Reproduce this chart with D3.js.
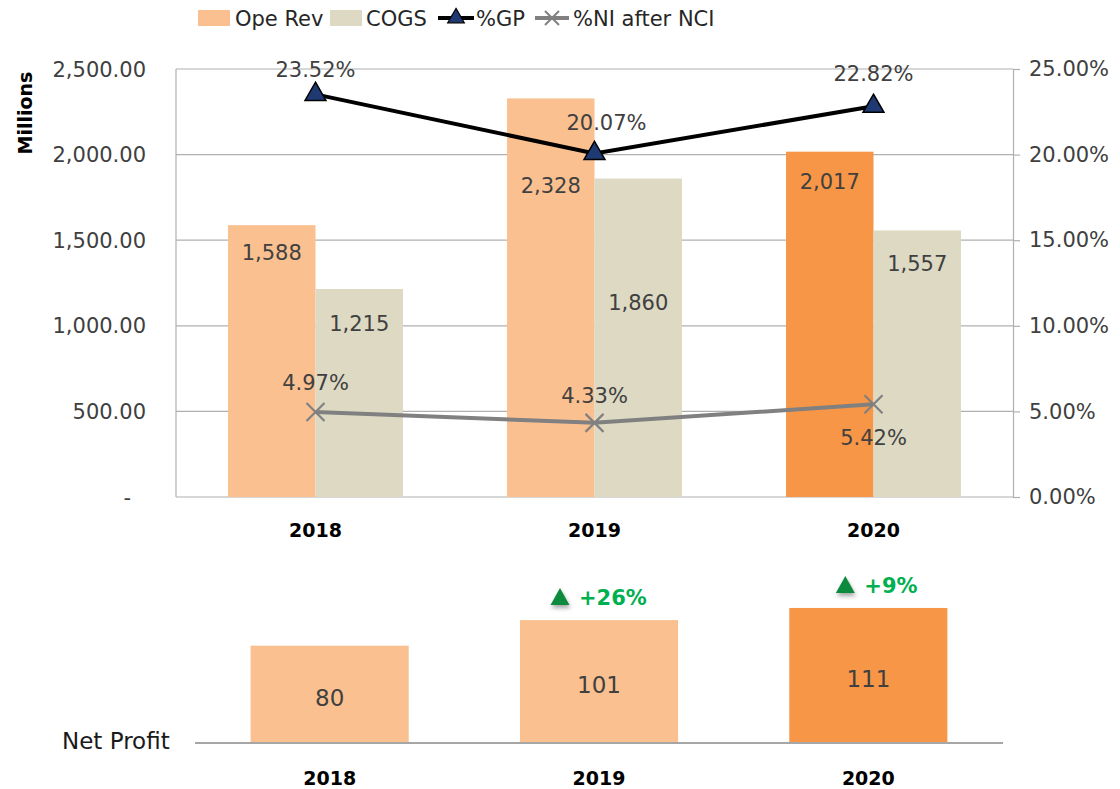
<!DOCTYPE html>
<html>
<head>
<meta charset="utf-8">
<script src="https://cdn.jsdelivr.net/npm/d3@7"></script>
<style>
  html, body { margin: 0; padding: 0; background: #fff; }
  svg { display: block; font-family: "DejaVu Sans", sans-serif; }
</style>
</head>
<body>
<svg id="chart" width="1120" height="789"></svg>
<script>
// ---------- DATA ----------
const years = ["2018", "2019", "2020"];
const opeRev = [1588, 2328, 2017];
const cogs = [1215, 1860, 1557];
const pctGP = [0.2352, 0.2007, 0.2282];
const pctNI = [0.0497, 0.0433, 0.0542];
const netProfit = [80, 101, 111];
const growthLabels = [null, "+26%", "+9%"];
const leftTicks = [0, 500, 1000, 1500, 2000, 2500];
const rightTicks = [0, 0.05, 0.10, 0.15, 0.20, 0.25];
const legendNames = ["Ope Rev", "COGS", "%GP", "%NI after NCI"];

// ---------- STYLE ----------
const C = {
  rev: "#FAC090", revHi: "#F79646", cogs: "#DDD9C3",
  grid: "#B0B0B0", text: "#404040", gp: "#000000", gpMarker: "#1F3A73",
  ni: "#808080", green: "#00B050", greenTri: "#0A8A3C"
};
const svg = d3.select("#chart");

// drop shadow filter
const defs = svg.append("defs");
const f = defs.append("filter").attr("id", "shadow").attr("x", "-50%").attr("y", "-50%").attr("width", "200%").attr("height", "200%");
f.append("feDropShadow").attr("dx", 1).attr("dy", 3).attr("stdDeviation", 2).attr("flood-color", "#000").attr("flood-opacity", 0.35);

// ---------- TOP CHART ----------
const L = 176, R = 1013, T = 69, B = 497;
const x0 = d3.scaleBand().domain(years).range([L, R]).padding(0);
const x1 = d3.scaleBand().domain(["rev", "cogs"]).range([0, x0.bandwidth()]).paddingInner(0).paddingOuter(0.595);
const y = d3.scaleLinear().domain([0, 2500]).range([B, T]);
const yR = d3.scaleLinear().domain([0, 0.25]).range([B, T]);

// gridlines
svg.append("g").selectAll("line").data(leftTicks).join("line")
  .attr("x1", L).attr("x2", R).attr("y1", d => y(d)).attr("y2", d => y(d))
  .attr("stroke", C.grid).attr("stroke-width", 1.2);
// left border
svg.append("line").attr("x1", L).attr("x2", L).attr("y1", T).attr("y2", B)
  .attr("stroke", C.grid).attr("stroke-width", 1.2);

// left axis labels
const fmtL = d => d === 0 ? "-" : d3.format(",.2f")(d);
svg.append("g").selectAll("text").data(leftTicks).join("text")
  .attr("x", d => d === 0 ? 131 : 146).attr("y", d => y(d)).attr("dy", "0.36em")
  .attr("text-anchor", "end").attr("font-size", 21).attr("fill", C.text)
  .text(fmtL);

// right axis
const rAxis = svg.append("g").attr("transform", `translate(${R},0)`)
  .call(d3.axisRight(yR).tickValues(rightTicks).tickSize(7).tickSizeOuter(0).tickFormat(d3.format(".2%")));
rAxis.select(".domain").attr("stroke", C.grid).attr("stroke-width", 1.2);
rAxis.selectAll(".tick line").attr("stroke", C.grid).attr("stroke-width", 1.2);
rAxis.selectAll(".tick text").attr("x", 16).attr("font-size", 21).attr("fill", C.text)
  .attr("font-family", "DejaVu Sans, sans-serif");

// Millions
svg.append("text").attr("transform", "translate(32,113) rotate(-90)")
  .attr("text-anchor", "middle").attr("font-size", 19).attr("font-weight", "bold")
  .attr("fill", "#000").text("Millions");

// bars
const gBars = svg.append("g");
gBars.selectAll("rect.rev").data(opeRev).join("rect").attr("class", "rev")
  .attr("x", (d, i) => x0(years[i]) + x1("rev")).attr("width", x1.bandwidth())
  .attr("y", d => y(d)).attr("height", d => B - y(d))
  .attr("fill", (d, i) => i === 2 ? C.revHi : C.rev);
gBars.selectAll("rect.cogs").data(cogs).join("rect").attr("class", "cogs")
  .attr("x", (d, i) => x0(years[i]) + x1("cogs")).attr("width", x1.bandwidth())
  .attr("y", d => y(d)).attr("height", d => B - y(d))
  .attr("fill", C.cogs);

// bar labels (vertical offsets below bar top, as placed in the original)
const revDy = [27, 87, 30];
const cogsDy = [34, 124, 33];
const fmtN = d3.format(",");
svg.append("g").selectAll("text").data(opeRev).join("text")
  .attr("x", (d, i) => x0(years[i]) + x1("rev") + x1.bandwidth() / 2)
  .attr("y", (d, i) => y(d) + revDy[i]).attr("dy", "0.36em")
  .attr("text-anchor", "middle").attr("font-size", 21).attr("fill", C.text).text(fmtN);
svg.append("g").selectAll("text").data(cogs).join("text")
  .attr("x", (d, i) => x0(years[i]) + x1("cogs") + x1.bandwidth() / 2)
  .attr("y", (d, i) => y(d) + cogsDy[i]).attr("dy", "0.36em")
  .attr("text-anchor", "middle").attr("font-size", 21).attr("fill", C.text).text(fmtN);

// lines
const cx = yr => x0(yr) + x0.bandwidth() / 2;
const lineGP = d3.line().x((d, i) => cx(years[i])).y(d => yR(d));
svg.append("path").datum(pctNI).attr("d", lineGP).attr("fill", "none")
  .attr("stroke", C.ni).attr("stroke-width", 4);
svg.append("path").datum(pctGP).attr("d", lineGP).attr("fill", "none")
  .attr("stroke", C.gp).attr("stroke-width", 4);

// markers
const tri = d3.symbol().type(d3.symbolTriangle).size(190);
svg.append("g").selectAll("path").data(pctGP).join("path")
  .attr("d", tri).attr("transform", (d, i) => `translate(${cx(years[i])},${yR(d)})`)
  .attr("fill", C.gpMarker).attr("stroke", "#000").attr("stroke-width", 1.5);
const xm = svg.append("g").selectAll("g").data(pctNI).join("g")
  .attr("transform", (d, i) => `translate(${cx(years[i])},${yR(d)})`);
xm.append("path").attr("d", "M-9,-9L9,9M-9,9L9,-9").attr("stroke", C.ni).attr("stroke-width", 2.2);

// line labels
const gpOff = [[0, -25], [12, -31], [0, -33]];
const niOff = [[0, -29], [0, -27], [0, 33]];
const fmtP = d3.format(".2%");
svg.append("g").selectAll("text").data(pctGP).join("text")
  .attr("x", (d, i) => cx(years[i]) + gpOff[i][0]).attr("y", (d, i) => yR(d) + gpOff[i][1]).attr("dy", "0.36em")
  .attr("text-anchor", "middle").attr("font-size", 21).attr("fill", C.text).text(fmtP);
svg.append("g").selectAll("text").data(pctNI).join("text")
  .attr("x", (d, i) => cx(years[i]) + niOff[i][0]).attr("y", (d, i) => yR(d) + niOff[i][1]).attr("dy", "0.36em")
  .attr("text-anchor", "middle").attr("font-size", 21).attr("fill", C.text).text(fmtP);

// x labels top
svg.append("g").selectAll("text").data(years).join("text")
  .attr("x", d => cx(d)).attr("y", 530).attr("dy", "0.36em")
  .attr("text-anchor", "middle").attr("font-size", 19).attr("font-weight", "bold").attr("fill", "#000").text(d => d);

// legend
const lg = svg.append("g");
const ly = 18;
lg.append("rect").attr("x", 198).attr("y", ly - 8).attr("width", 32).attr("height", 16).attr("fill", C.rev);
lg.append("rect").attr("x", 330).attr("y", ly - 8).attr("width", 32).attr("height", 16).attr("fill", C.cogs);
lg.append("line").attr("x1", 438).attr("x2", 474).attr("y1", ly).attr("y2", ly).attr("stroke", C.gp).attr("stroke-width", 4);
lg.append("path").attr("d", d3.symbol().type(d3.symbolTriangle).size(120)).attr("transform", `translate(456,${ly})`)
  .attr("fill", C.gpMarker).attr("stroke", "#000").attr("stroke-width", 1.2);
lg.append("line").attr("x1", 535).attr("x2", 569).attr("y1", ly).attr("y2", ly).attr("stroke", C.ni).attr("stroke-width", 4);
lg.append("path").attr("d", "M-7,-7L7,7M-7,7L7,-7").attr("transform", `translate(552,${ly})`).attr("stroke", C.ni).attr("stroke-width", 2);
const lgX = [235, 366, 476, 573];
lg.selectAll("text").data(legendNames).join("text")
  .attr("x", (d, i) => lgX[i]).attr("y", ly).attr("dy", "0.36em")
  .attr("font-size", 21).attr("fill", "#262626").text(d => d);

// ---------- BOTTOM CHART ----------
const BL = 195, BR = 1003, BB = 743;
const xb = d3.scaleBand().domain(years).range([BL, BR]).paddingInner(0.413).paddingOuter(0.2065);
const yb = d3.scaleLinear().domain([0, 120]).range([BB, 597]);

svg.append("g").selectAll("rect").data(netProfit).join("rect")
  .attr("x", (d, i) => xb(years[i])).attr("width", xb.bandwidth())
  .attr("y", d => yb(d)).attr("height", d => BB - yb(d))
  .attr("fill", (d, i) => i === 2 ? C.revHi : C.rev);
svg.append("line").attr("x1", BL).attr("x2", BR).attr("y1", BB).attr("y2", BB)
  .attr("stroke", "#A6A6A6").attr("stroke-width", 2);

svg.append("g").selectAll("text").data(netProfit).join("text")
  .attr("x", (d, i) => xb(years[i]) + xb.bandwidth() / 2)
  .attr("y", d => (yb(d) + BB) / 2 + 3).attr("dy", "0.36em")
  .attr("text-anchor", "middle").attr("font-size", 23).attr("fill", C.text).text(d => d);

// growth annotations
const triOff = [0, -39, -23];
const ga = svg.append("g").selectAll("g").data(growthLabels.map((g, i) => ({ g, i })).filter(d => d.g))
  .join("g")
  .attr("transform", d => `translate(${xb(years[d.i]) + xb.bandwidth() / 2 + triOff[d.i]},${yb(netProfit[d.i]) - 23})`);
ga.append("path").attr("d", "M0,-9L9.5,8L-9.5,8Z").attr("fill", C.greenTri).attr("filter", "url(#shadow)");
ga.append("text").attr("x", 19).attr("y", 0).attr("dy", "0.36em")
  .attr("font-size", 21).attr("font-weight", "bold").attr("fill", C.green).text(d => d.g);

// Net Profit label
svg.append("text").attr("x", 62).attr("y", 741).attr("dy", "0.36em")
  .attr("font-size", 23).attr("fill", "#1a1a1a").text("Net Profit");

// bottom x labels
svg.append("g").selectAll("text").data(years).join("text")
  .attr("x", d => xb(d) + xb.bandwidth() / 2).attr("y", 778).attr("dy", "0.36em")
  .attr("text-anchor", "middle").attr("font-size", 19).attr("font-weight", "bold").attr("fill", "#000").text(d => d);
</script>
</body>
</html>
